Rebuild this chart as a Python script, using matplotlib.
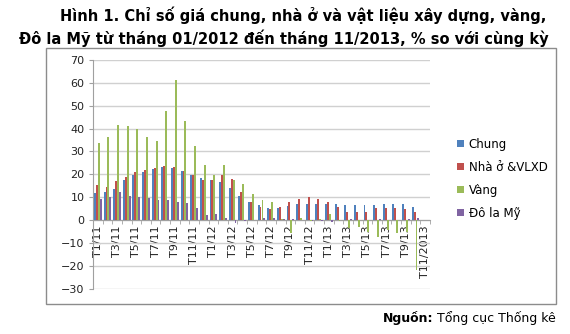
import numpy as np
import matplotlib
matplotlib.use("Agg")
import matplotlib.pyplot as plt
from matplotlib.patches import Rectangle

# Du lieu (% so voi cung ky), T1/2011 -> T11/2013
thang = ["T1/11", "T2/11", "T3/11", "T4/11", "T5/11", "T6/11", "T7/11", "T8/11", "T9/11",
         "T10/11", "T11/11", "T12/11", "T1/12", "T2/12", "T3/12", "T4/12", "T5/12", "T6/12",
         "T7/12", "T8/12", "T9/12", "T10/12", "T11/12", "T12/12", "T1/13", "T2/13", "T3/13",
         "T4/13", "T5/13", "T6/13", "T7/13", "T8/13", "T9/13", "T10/13", "T11/2013"]
nan = np.nan
chung = [11.8, 12.3, 13.7, 17.6, 19.9, 20.8, 22.4, 23.1, 22.7, 21.5, 19.9, 18.2, 17.3, 16.5,
         13.9, 10.3, 8.0, 6.5, 5.1, 5.1, 6.3, 6.8, 7.1, 6.8, 7.2, 7.0, 6.5, 6.5, 6.5, 6.6,
         6.8, 6.8, 6.8, 5.8, nan]
nha_o = [15.2, 14.4, 17.0, 19.0, 21.1, 21.9, 22.8, 23.8, 23.1, 21.4, 19.8, 17.3, 17.7, 19.9,
         17.8, 12.3, 7.8, 5.8, 4.7, 5.8, 7.7, 9.0, 9.9, 9.1, 7.7, 5.8, 3.3, 3.3, 3.6, 5.1,
         5.1, 5.1, 4.8, 3.3, nan]
vang = [33.9, 36.1, 41.6, 41.0, 40.0, 36.4, 34.6, 47.9, 61.3, 43.3, 32.2, 24.2, 19.8, 24.1,
        17.4, 15.7, 11.6, 8.7, 7.8, 0.4, -5.7, 0.8, -0.4, 0.3, 2.6, -0.6, -3.3, -3.2, -5.1,
        -7.5, -4.3, -5.8, -5.4, -21.9, nan]
do_la = [9.1, 10.1, 12.1, 10.5, 10.1, 9.8, 8.9, 8.7, 7.8, 7.5, 5.1, 2.2, 2.6, 1.0, -1.5,
         -0.4, 0.1, 0.9, 0.9, 0.4, 0.3, 0.1, -0.3, -0.6, -0.8, 0.2, 0.3, 0.1, 0.2, 0.3,
         0.2, 0.2, 0.3, 0.7, nan]

series = [("Chung", chung, "#4F81BD"),
          ("Nhà ở &VLXD", nha_o, "#C0504D"),
          ("Vàng", vang, "#9BBB59"),
          ("Đô la Mỹ", do_la, "#8064A2")]

plt.rcParams["font.family"] = ["DejaVu Sans"]

fig = plt.figure(figsize=(5.7, 3.34), dpi=100)
ax = fig.add_axes([93 / 570, 1 - 288.6 / 334, (430 - 93) / 570, (288.6 - 60) / 334])

x = np.arange(len(thang))
w = 0.2
for k, (ten, vals, mau) in enumerate(series):
    ax.bar(x + (k - 1.5) * w, vals, width=w, color=mau, label=ten, zorder=3, linewidth=0)

ax.set_xlim(-0.5, len(thang) - 0.5)
ax.set_ylim(-30, 70)
ax.set_yticks(range(-30, 71, 10))
ax.yaxis.grid(True, color="#D0D0D0", linewidth=1, zorder=0)
ax.tick_params(axis="y", labelsize=8, colors="#222222", length=3, color="#A0A0A0", pad=3)

# truc hoanh nam tai 0
ax.spines["bottom"].set_position(("data", 0))
ax.spines["bottom"].set_color("#A0A0A0")
ax.spines["left"].set_color("#A0A0A0")
ax.spines["top"].set_visible(False)
ax.spines["right"].set_visible(False)
ax.set_xticks(x[::2])
ax.set_xticklabels(thang[::2], rotation=90, fontsize=8, color="#222222")
ax.set_xticks(np.arange(-0.5, len(thang), 1), minor=True)
ax.tick_params(axis="x", which="major", length=0, pad=4)
ax.tick_params(axis="x", which="minor", length=3, color="#A0A0A0")

# khung bieu do
fig.patches.append(Rectangle((46 / 570, 1 - 304 / 334), 510 / 570, 256 / 334,
                             transform=fig.transFigure, fill=False,
                             edgecolor="#8C8C8C", linewidth=1))

fig.text(303 / 570, 1 - 15 / 334, "Hình 1. Chỉ số giá chung, nhà ở và vật liệu xây dựng, vàng,",
         ha="center", va="center", fontsize=10.5, fontweight="bold")
fig.text(284 / 570, 1 - 38 / 334, "Đô la Mỹ từ tháng 01/2012 đến tháng 11/2013, % so với cùng kỳ",
         ha="center", va="center", fontsize=10.5, fontweight="bold")

fig.legend(loc="upper left", bbox_to_anchor=(452 / 570, 1 - 133 / 334), frameon=False,
           fontsize=8.5, handlelength=0.6, handleheight=0.6, handletextpad=0.4,
           labelspacing=0.85, borderaxespad=0)

# nguon
renderer = fig.canvas.get_renderer()
t2 = fig.text(556 / 570, 1 - 318 / 334, " Tổng cục Thống kê", ha="right", va="center", fontsize=9)
bb = t2.get_window_extent(renderer)
fig.text(bb.x0 / fig.bbox.width, 1 - 318 / 334, "Nguồn:", ha="right", va="center",
         fontsize=9, fontweight="bold")

fig.savefig("out.png", dpi=100)
